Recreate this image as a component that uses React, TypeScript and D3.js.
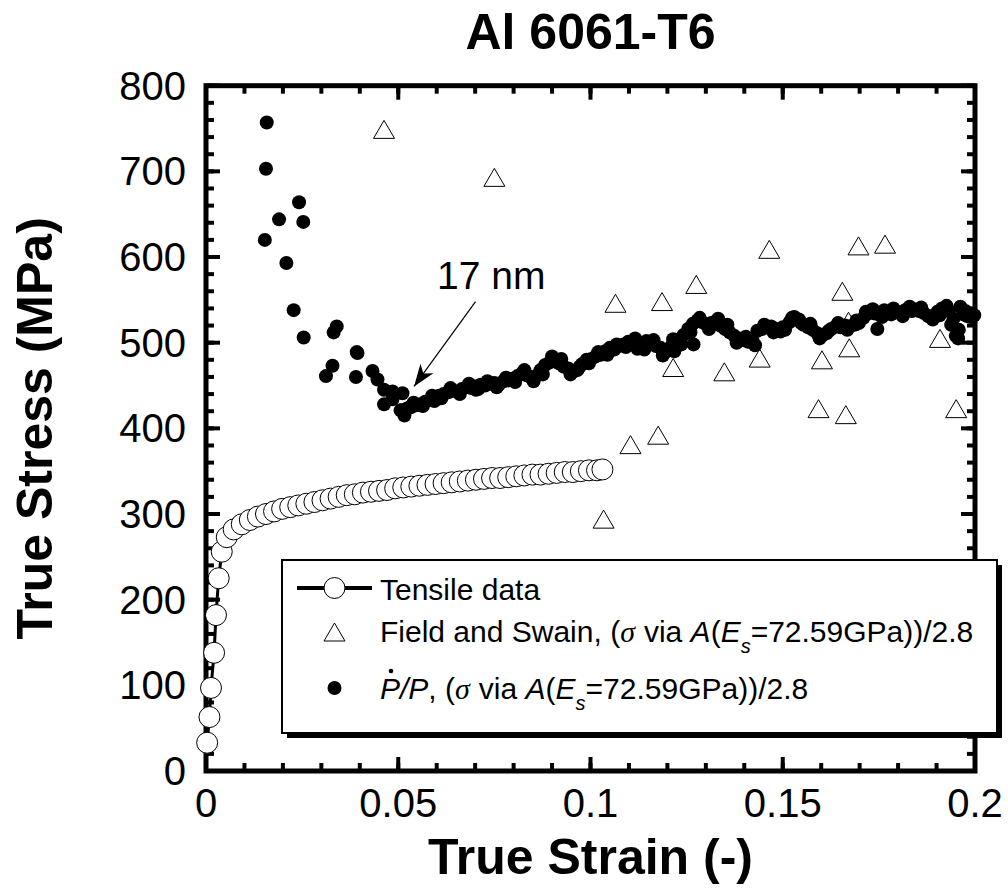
import React from 'react';
import * as d3 from 'd3';

// ---------- data ----------
const tensileStrain = [0.0003, 0.0009, 0.0013, 0.0021, 0.0026, 0.0033, 0.0041, 0.0054,
  0.0072, 0.0093, 0.0114, 0.0135, 0.0156, 0.0177, 0.0198, 0.0219, 0.024, 0.0261, 0.0282,
  0.0303, 0.0324, 0.0345, 0.0366, 0.0387, 0.0408, 0.0429, 0.045, 0.0471, 0.0492, 0.0513,
  0.0534, 0.0555, 0.0576, 0.0597, 0.0618, 0.0639, 0.066, 0.0681, 0.0702, 0.0723, 0.0744,
  0.0765, 0.0786, 0.0807, 0.0828, 0.0849, 0.087, 0.0891, 0.0912, 0.0933, 0.0954, 0.0975,
  0.0996, 0.1017, 0.1031];
const tensileStress = [33, 63, 97, 138, 182, 225, 256, 273,
  282, 288, 293, 297, 300, 303, 306, 308, 310, 312, 314,
  316, 318, 320, 322, 323, 325, 326, 327, 328, 330, 331,
  332, 333, 334, 335, 336, 337, 338, 339, 340, 341, 342,
  342, 343, 344, 345, 346, 346, 347, 348, 349, 349, 350,
  351, 351, 352];

const fsStrain = [0.0463, 0.075, 0.1034, 0.1104, 0.1065, 0.1176, 0.1186, 0.1215, 0.1275, 0.1348,
  0.144, 0.1465, 0.1593, 0.1602, 0.1655, 0.1664, 0.1671, 0.1673, 0.1697, 0.1766, 0.1909, 0.1951];
const fsStress = [749, 693, 294, 381, 546, 392, 548, 471, 568, 466,
  482, 609, 423, 480, 560, 416, 525, 494, 613, 615, 505, 423];

const ppStrain = [0.0158, 0.0156, 0.0242, 0.019, 0.0253, 0.0153, 0.0209, 0.0228, 0.0254, 0.0332,
  0.034, 0.0392, 0.0394, 0.0329, 0.0312, 0.039, 0.0433, 0.0446, 0.0463, 0.0485, 0.0511, 0.0463,
  0.0485, 0.0506, 0.0528,
  0.051, 0.0522, 0.0534, 0.0546, 0.0558, 0.057, 0.0582, 0.0594, 0.0606, 0.0618, 0.063, 0.0642,
  0.0654, 0.0666, 0.0678, 0.069, 0.0702, 0.0714, 0.0726, 0.0738, 0.075, 0.0762, 0.0774, 0.0786,
  0.0798, 0.081, 0.0822, 0.0834, 0.0846, 0.0858, 0.087, 0.0882, 0.0894, 0.0906, 0.0918, 0.093,
  0.0942, 0.0954, 0.0966, 0.0978, 0.099, 0.1002, 0.1014, 0.1026, 0.1038, 0.105, 0.1062, 0.1074,
  0.1086, 0.1098, 0.111, 0.1122, 0.1134, 0.1146, 0.1158, 0.117, 0.1182, 0.1194, 0.1206, 0.1218,
  0.123, 0.1242, 0.1254, 0.1266, 0.1278, 0.129, 0.1302, 0.1314, 0.1326, 0.1338, 0.135, 0.1362,
  0.1374, 0.1386, 0.1398, 0.141, 0.1422, 0.1434, 0.1446, 0.1458, 0.147, 0.1482, 0.1494, 0.1506,
  0.1518, 0.153, 0.1542, 0.1554, 0.1566, 0.1578, 0.159, 0.1602, 0.1614, 0.1626, 0.1638, 0.165,
  0.1662, 0.1674, 0.1686, 0.1698, 0.171, 0.1722, 0.1734, 0.1746, 0.1758, 0.177, 0.1782, 0.1794,
  0.1806, 0.1818, 0.183, 0.1842, 0.1854, 0.1866, 0.1878, 0.189, 0.1902, 0.1914, 0.1926, 0.1938,
  0.1944, 0.195, 0.1956, 0.1962, 0.197, 0.198, 0.199, 0.1998,
  0.1215, 0.1268, 0.0594, 0.0702,
  0.0516, 0.054, 0.0564, 0.0588, 0.0612, 0.0636, 0.066, 0.0684, 0.0708, 0.0732, 0.0756, 0.078,
  0.0804, 0.0828, 0.0852, 0.0876, 0.09, 0.0924, 0.0948, 0.0972, 0.0996, 0.102, 0.1044, 0.1068,
  0.1092, 0.1116, 0.114, 0.1164, 0.1188, 0.1212, 0.1236, 0.126, 0.1284, 0.1308, 0.1332, 0.1356,
  0.138, 0.1404, 0.1428, 0.1452, 0.1476, 0.15, 0.1524, 0.1548, 0.1572, 0.1596, 0.162, 0.1644,
  0.1668, 0.1692, 0.1716, 0.174, 0.1764, 0.1788, 0.1812, 0.1836, 0.186, 0.1884, 0.1908, 0.1932,
  0.1958, 0.1975];
const ppStress = [757, 703, 664, 644, 641, 620, 593, 538, 506, 512,
  519, 489, 488, 473, 461, 460, 467, 457, 445, 443, 441, 428,
  434, 421, 424,
  421, 423, 425, 427, 428, 431, 433, 436, 438, 440, 442, 444,
  443, 446, 448, 447, 449, 451, 450, 452, 453, 451, 455, 456,
  458, 461, 464, 462, 459, 461, 468, 474, 477, 480, 476, 472,
  470, 466, 468, 475, 480, 481, 484, 486, 490, 494, 492, 496,
  498, 501, 500, 493, 497, 502, 499, 496, 494, 489, 492, 490,
  503, 509, 516, 522, 526, 524, 521, 523, 525, 520, 516, 512,
  508, 505, 503, 501, 502, 514, 516, 518, 519, 516, 513, 515,
  524, 530, 527, 521, 518, 515, 511, 508, 511, 516, 519, 518,
  520, 519, 521, 523, 529, 534, 539, 516, 530, 535, 533, 536,
  535, 538, 542, 539, 537, 535, 531, 527, 536, 540, 543, 521,
  528, 508, 505, 542, 533, 531, 530, 532,
  504, 498, 432, 445,
  415, 430, 426, 438, 435, 447, 440, 452, 446, 455, 448, 459,
  454, 468, 455, 463, 484, 481, 463, 472, 476, 489, 486, 498,
  495, 505, 492, 503, 485, 497, 498, 512, 529, 516, 528, 521,
  500, 507, 497, 521, 512, 518, 529, 523, 522, 505, 514, 523,
  515, 526, 536, 534, 538, 540, 531, 537, 541, 531, 532, 537,
  515, 537];

const xTickLabels = ['0', '0.05', '0.1', '0.15', '0.2'];
const yTickLabels = ['0', '100', '200', '300', '400', '500', '600', '700', '800'];

const FONT = '"Liberation Sans", Arial, Helvetica, sans-serif';

export default function App() {
  const W = 1008, H = 895;
  const x = d3.scaleLinear().domain([0, 0.2]).range([206, 975]);
  const y = d3.scaleLinear().domain([0, 800]).range([771, 85.7]);

  const xMajor = xTickLabels.map(Number);
  const yMajor = yTickLabels.map(Number);
  const xMinor = d3.range(0, 0.2001, 0.01);
  const yMinor = d3.range(0, 800.1, 20);

  const [x0, x1] = x.range();
  const [y0, y1] = y.range();

  const line = d3.line<number>().x((d, i) => x(tensileStrain[i])).y((d, i) => y(tensileStress[i]));
  const tri = 'M0,-9L10.5,9L-10.5,9Z';

  // annotation (data units)
  const annText = { s: 0.0601, v: 563 };
  const annTail = { s: 0.0701, v: 548 };
  const annTip = { s: 0.0541, v: 449 };
  const ax1 = x(annTail.s), ay1 = y(annTail.v), ax2 = x(annTip.s), ay2 = y(annTip.v);
  const ang = Math.atan2(ay2 - ay1, ax2 - ax1) * 180 / Math.PI;

  const lg = { x: 282, y: 560, w: 715, h: 173 };

  return (
    <svg width={W} height={H} style={{ position: 'absolute', left: 0, top: 0, background: '#fff' }} fontFamily={FONT}>
      <rect x={0} y={0} width={W} height={H} fill="#fff" />
      {/* frame */}
      <rect x={x0} y={y1} width={x1 - x0} height={y0 - y1} fill="none" stroke="#000" strokeWidth={5} />
      {/* ticks */}
      <g stroke="#000" strokeWidth={4}>
        {xMinor.map((t, i) => (
          <g key={'xm' + i}>
            <line x1={x(t)} x2={x(t)} y1={y0} y2={y0 - 8} />
            <line x1={x(t)} x2={x(t)} y1={y1} y2={y1 + 8} />
          </g>
        ))}
        {xMajor.map((t, i) => (
          <g key={'xM' + i}>
            <line x1={x(t)} x2={x(t)} y1={y0} y2={y0 - 14} />
            <line x1={x(t)} x2={x(t)} y1={y1} y2={y1 + 14} />
          </g>
        ))}
        {yMinor.map((t, i) => (
          <g key={'ym' + i}>
            <line x1={x0} x2={x0 + 8} y1={y(t)} y2={y(t)} />
            <line x1={x1} x2={x1 - 8} y1={y(t)} y2={y(t)} />
          </g>
        ))}
        {yMajor.map((t, i) => (
          <g key={'yM' + i}>
            <line x1={x0} x2={x0 + 14} y1={y(t)} y2={y(t)} />
            <line x1={x1} x2={x1 - 14} y1={y(t)} y2={y(t)} />
          </g>
        ))}
      </g>
      {/* tick labels */}
      <g fontSize={40} fill="#000">
        {xTickLabels.map((l, i) => (
          <text key={'xl' + i} x={x(xMajor[i])} y={817} textAnchor="middle">{l}</text>
        ))}
        {yTickLabels.map((l, i) => (
          <text key={'yl' + i} x={186} y={y(yMajor[i]) + 14} textAnchor="end">{l}</text>
        ))}
      </g>
      {/* tensile line + circles */}
      <path d={line(tensileStress) || ''} fill="none" stroke="#000" strokeWidth={3} />
      {tensileStrain.map((s, i) => (
        <circle key={'tc' + i} cx={x(s)} cy={y(tensileStress[i])} r={10.5} fill="#fff" stroke="#000" strokeWidth={1} />
      ))}
      {/* Field and Swain triangles */}
      {fsStrain.map((s, i) => (
        <path key={'fs' + i} d={tri} transform={`translate(${x(s)},${y(fsStress[i])})`} fill="#fff" stroke="#000" strokeWidth={1} />
      ))}
      {/* P-dot/P filled circles */}
      {ppStrain.map((s, i) => (
        <circle key={'pp' + i} cx={x(s)} cy={y(ppStress[i])} r={7} fill="#000" />
      ))}
      {/* annotation */}
      <text x={x(annText.s)} y={y(annText.v)} fontSize={39} textAnchor="start">17 nm</text>
      <line x1={ax1} y1={ay1} x2={ax2} y2={ay2} stroke="#000" strokeWidth={1.2} />
      <path d="M0,0L-22,-8L-16,0L-22,8Z" transform={`translate(${ax2},${ay2}) rotate(${ang})`} fill="#000" />
      {/* legend */}
      <rect x={lg.x + 5} y={lg.y + 5} width={lg.w} height={lg.h} fill="#000" />
      <rect x={lg.x} y={lg.y} width={lg.w} height={lg.h} fill="#fff" stroke="#000" strokeWidth={2} />
      <line x1={297} x2={372} y1={588} y2={588} stroke="#000" strokeWidth={4} />
      <circle cx={334.5} cy={588} r={10.5} fill="#fff" stroke="#000" strokeWidth={1} />
      <path d={tri} transform="translate(334.5,632)" fill="#fff" stroke="#000" strokeWidth={1} />
      <circle cx={334.5} cy={688} r={7} fill="#000" />
      <g fontSize={30} fill="#000">
        <text x={380} y={600}>Tensile data</text>
        <text x={380} y={642}>
          {'Field and Swain, ('}
          <tspan fontStyle="italic" fontFamily='"Liberation Serif", serif'>σ</tspan>
          <tspan dx={9}>{'via '}</tspan>
          <tspan fontStyle="italic">A</tspan>
          <tspan>(</tspan>
          <tspan fontStyle="italic">E</tspan>
          <tspan fontStyle="italic" fontSize={20} dy={11}>s</tspan>
          <tspan dy={-11}>=72.59GPa))/2.8</tspan>
        </text>
        <text x={380} y={699}>
          <tspan fontStyle="italic">P/P</tspan>
          <tspan>{', ('}</tspan>
          <tspan fontStyle="italic" fontFamily='"Liberation Serif", serif'>σ</tspan>
          <tspan dx={9}>{'via '}</tspan>
          <tspan fontStyle="italic">A</tspan>
          <tspan>(</tspan>
          <tspan fontStyle="italic">E</tspan>
          <tspan fontStyle="italic" fontSize={20} dy={11}>s</tspan>
          <tspan dy={-11}>=72.59GPa))/2.8</tspan>
        </text>
        <circle cx={391} cy={671} r={2.3} fill="#000" />
      </g>
      {/* titles */}
      <text x={(x0 + x1) / 2} y={49} fontSize={50} fontWeight="bold" textAnchor="middle">Al 6061-T6</text>
      <text x={(x0 + x1) / 2} y={874} fontSize={50} fontWeight="bold" textAnchor="middle">True Strain (-)</text>
      <text transform={`translate(52,${(y0 + y1) / 2}) rotate(-90)`} fontSize={50} fontWeight="bold" textAnchor="middle">True Stress (MPa)</text>
    </svg>
  );
}
